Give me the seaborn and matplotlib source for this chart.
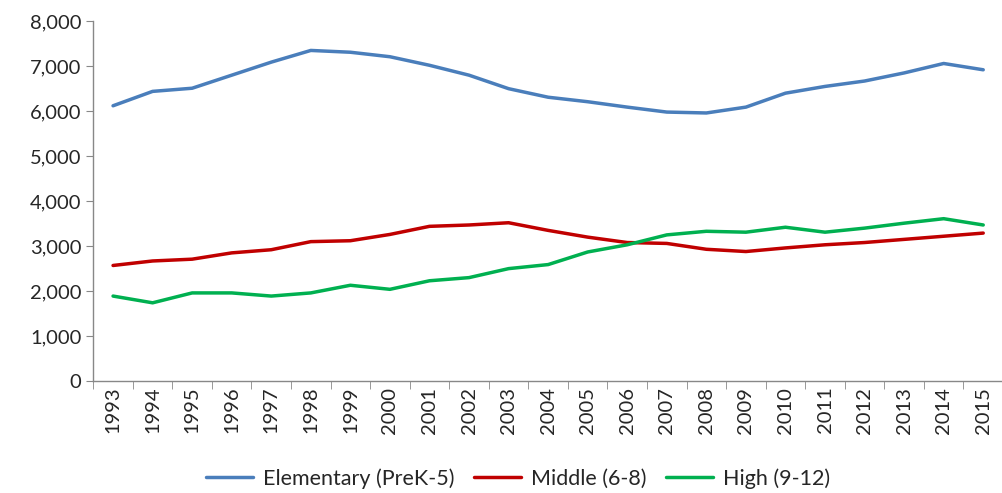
import seaborn as sns
import matplotlib.pyplot as plt
import matplotlib.ticker as mticker
import pandas as pd

years = list(range(1993, 2016))
elementary = [6120, 6440, 6510, 6800, 7090, 7350, 7310, 7210, 7020, 6800, 6500, 6310,
              6210, 6090, 5980, 5960, 6090, 6400, 6550, 6670, 6850, 7060, 6920]
middle = [2570, 2670, 2710, 2850, 2920, 3100, 3120, 3260, 3440, 3470, 3520, 3350,
          3200, 3080, 3060, 2930, 2880, 2960, 3030, 3080, 3150, 3220, 3290]
high = [1890, 1740, 1960, 1960, 1890, 1960, 2130, 2040, 2230, 2300, 2500, 2590,
        2870, 3030, 3250, 3330, 3310, 3420, 3310, 3400, 3510, 3610, 3470]
series_names = ["Elementary (PreK-5)", "Middle (6-8)", "High (9-12)"]
colors = ["#4A7EBB", "#C00000", "#00B050"]

df = pd.DataFrame({"pos": list(range(len(years))) * 3,
                   "value": elementary + middle + high,
                   "level": [n for n in series_names for _ in years]})

sns.set_style("white")
plt.rcParams["font.family"] = ["Lato", "DejaVu Sans"]

fig = plt.figure(figsize=(10.03, 4.93), dpi=100)
ax = fig.add_axes([0.093, 0.227, 0.907, 0.73])

sns.lineplot(data=df, x="pos", y="value", hue="level", palette=colors,
             hue_order=series_names, linewidth=2.5, ax=ax)

ax.set_xlim(-0.5, len(years) - 0.5)
ax.set_ylim(0, 8000)
ax.set_xticks(range(len(years)))
ax.set_xticklabels([str(y) for y in years], rotation=90)
ax.set_xticks([i - 0.5 for i in range(len(years) + 1)], minor=True)
ax.tick_params(axis="x", which="major", length=0, labelsize=14.5, pad=4)
ax.tick_params(axis="x", which="minor", length=6, color="#888888", direction="out", bottom=True)
ax.yaxis.set_major_locator(mticker.MultipleLocator(1000))
ax.yaxis.set_major_formatter(mticker.FuncFormatter(lambda v, p: f"{int(v):,}"))
ax.tick_params(axis="y", length=5, color="#888888", direction="out", left=True, labelsize=14.5)
ax.set_xlabel("")
ax.set_ylabel("")

for side in ["top", "right"]:
    ax.spines[side].set_visible(False)
for side in ["left", "bottom"]:
    ax.spines[side].set_color("#888888")
    ax.spines[side].set_linewidth(1)

ax.legend(loc="center", bbox_to_anchor=(0.467, -0.27), ncol=3, frameon=False,
          fontsize=15.5, handlelength=2.2, handletextpad=0.45, columnspacing=0.9)

plt.savefig("out.png", dpi=100)
